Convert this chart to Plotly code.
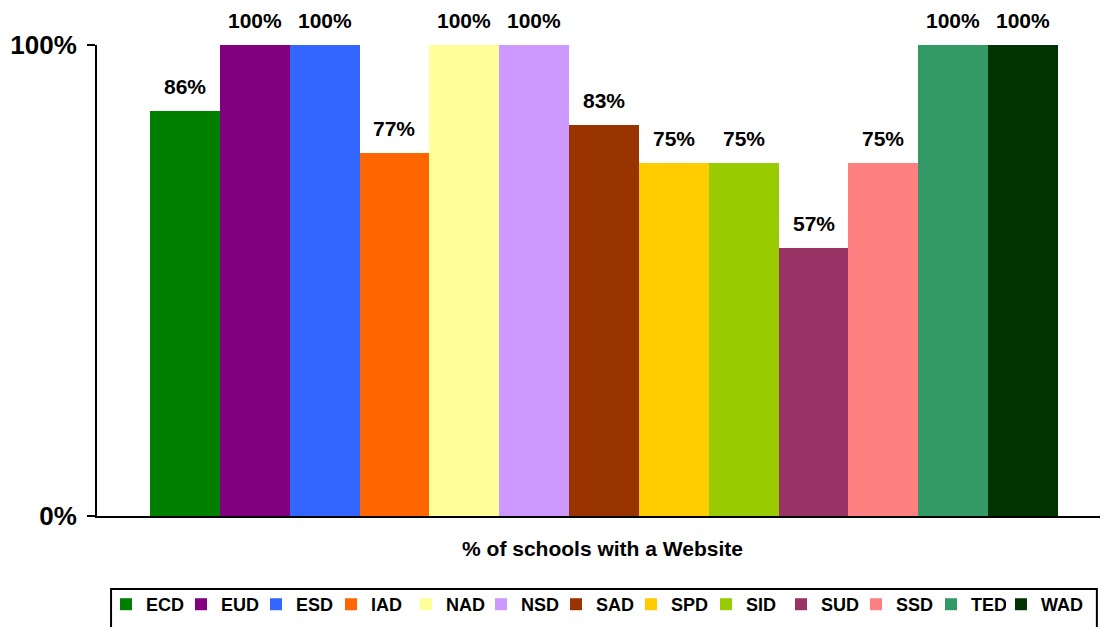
import plotly.graph_objects as go

districts = ["ECD", "EUD", "ESD", "IAD", "NAD", "NSD", "SAD", "SPD", "SID", "SUD", "SSD", "TED", "WAD"]
share_with_website = [0.86, 1.00, 1.00, 0.77, 1.00, 1.00, 0.83, 0.75, 0.75, 0.57, 0.75, 1.00, 1.00]
bar_colors = ["#008000", "#800080", "#3366FF", "#FF6600", "#FFFF99", "#CC99FF", "#993300",
              "#FFCC00", "#99CC00", "#993366", "#FF8080", "#339966", "#003300"]
axis_title = "% of schools with a Website"
y_ticks = [0, 1]
y_tick_text = ["0%", "100%"]

FONT = "Arial, 'Liberation Sans', sans-serif"
LEG_FONT = dict(family=FONT, size=18, color="black", weight="bold")

fig = go.Figure()
n = len(districts)
for i, (name, val, col) in enumerate(zip(districts, share_with_website, bar_colors)):
    fig.add_trace(go.Bar(
        x=[name], y=[val], name=name, width=[1],
        marker=dict(color=col, line=dict(width=0)),
        hoverinfo="name+y",
        # last entry goes in a second, auto-sized legend so its label is not clipped
        legend="legend2" if i == n - 1 else "legend",
    ))

for name, val in zip(districts, share_with_website):
    fig.add_annotation(
        x=name, y=val, xref="x", yref="y",
        text=f"{val:.0%}", showarrow=False,
        yanchor="bottom", yshift=11,
        font=dict(family=FONT, size=21, color="black", weight="bold"),
    )

# legend frame
fig.add_shape(
    type="rect", xref="paper", yref="paper",
    x0=0.0139, x1=0.989, y0=-0.155, y1=-0.40,
    line=dict(color="black", width=2), fillcolor="rgba(0,0,0,0)", layer="above",
)

# the page body adds an 8px margin, so the figure is 8px smaller than the window
fig.update_layout(
    width=1100, height=619,
    margin=dict(l=89, r=0, t=37, b=111, autoexpand=False),
    paper_bgcolor="white", plot_bgcolor="white",
    barmode="overlay", bargap=0,
    font=dict(family=FONT, color="black"),
    showlegend=True,
    legend=dict(
        orientation="h", xref="container", yref="container",
        x=0.0891, xanchor="left", y=0.0662, yanchor="top",
        borderwidth=0, bgcolor="rgba(0,0,0,0)",
        font=LEG_FONT, entrywidth=30, entrywidthmode="pixels",
        traceorder="normal",
    ),
    legend2=dict(
        orientation="h", xref="container", yref="container",
        x=0.9027, xanchor="left", y=0.0662, yanchor="top",
        borderwidth=0, bgcolor="rgba(0,0,0,0)",
        font=LEG_FONT,
    ),
    xaxis=dict(
        range=[-1.259, 13.216], showticklabels=False, ticks="", automargin=False,
        showline=True, linecolor="black", linewidth=2, showgrid=False, zeroline=False,
        title=dict(text=axis_title, standoff=24,
                   font=dict(family=FONT, size=21, color="black", weight="bold")),
    ),
    yaxis=dict(
        range=[0, 1], tickvals=y_ticks, ticktext=y_tick_text, automargin=False,
        ticks="outside", ticklen=8, tickwidth=2, tickcolor="black",
        ticklabelstandoff=5,
        showline=True, linecolor="black", linewidth=2, showgrid=False, zeroline=False,
        tickfont=dict(family=FONT, size=26, color="black", weight="bold"),
    ),
)

fig.write_html("out.html")
